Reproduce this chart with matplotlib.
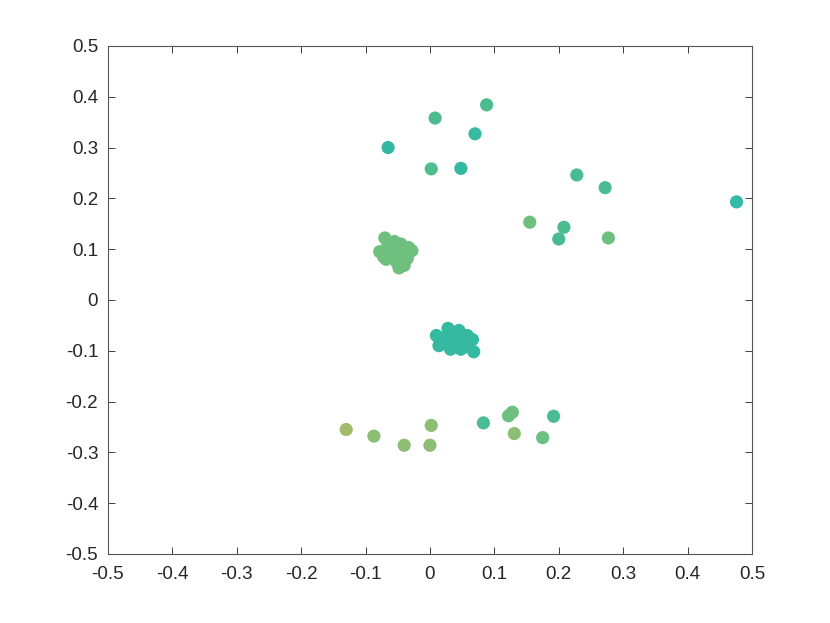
import matplotlib
matplotlib.use('Agg')
import matplotlib.pyplot as plt
import numpy as np

plt.rcParams['font.family'] = ['Liberation Sans', 'DejaVu Sans']

# scattered points (x, y, colour)
top_x = [-0.065, 0.008, 0.088, 0.070, 0.002, 0.048]
top_y = [0.300, 0.358, 0.384, 0.327, 0.258, 0.259]
top_c = ['#33b9a1', '#4cbc90', '#4cbc90', '#38baa0', '#4fbd8e', '#33b8a2']

right_x = [0.228, 0.272, 0.476, 0.155, 0.208, 0.200, 0.277]
right_y = [0.246, 0.221, 0.193, 0.153, 0.143, 0.120, 0.122]
right_c = ['#4bbc92', '#4bbc92', '#33baa6', '#6ec080', '#4bbc92', '#49bb94', '#6dc080']

bot_x = [-0.130, -0.087, -0.040, 0.002, 0.000, 0.083, 0.122, 0.128, 0.131, 0.175, 0.192]
bot_y = [-0.255, -0.268, -0.286, -0.247, -0.286, -0.242, -0.228, -0.221, -0.263, -0.271, -0.229]
bot_c = ['#a1bd6b', '#8cbf73', '#8cbf73', '#8cbf73', '#8cbf73', '#48bc95',
         '#6ec080', '#6ec080', '#8ebe73', '#6ec080', '#4abc93']

# dense clusters
g_x = [-0.070, -0.055, -0.045, -0.033, -0.028, -0.078, -0.072, -0.068, -0.060, -0.050,
       -0.048, -0.040, -0.045, -0.058, -0.065, -0.038, -0.052, -0.062, -0.042, -0.035]
g_y = [0.122, 0.115, 0.110, 0.103, 0.097, 0.095, 0.085, 0.080, 0.090, 0.100,
       0.063, 0.068, 0.080, 0.105, 0.110, 0.090, 0.075, 0.098, 0.095, 0.082]

t_x = [0.010, 0.028, 0.045, 0.036, 0.066, 0.068, 0.055, 0.048, 0.032, 0.014,
       0.020, 0.040, 0.052, 0.025, 0.058, 0.035, 0.045, 0.016]
t_y = [-0.070, -0.056, -0.060, -0.065, -0.078, -0.102, -0.092, -0.097, -0.097, -0.090,
       -0.080, -0.085, -0.080, -0.072, -0.070, -0.088, -0.075, -0.085]

fig = plt.figure(figsize=(8.3, 6.23), dpi=100)
ax = fig.add_axes([0.13, 0.1108, 0.776, 0.8155])

s = 90
ax.scatter(g_x, g_y, s=s, c='#6fbf7f', edgecolors='none')
ax.scatter(t_x, t_y, s=s, c='#35b9a0', edgecolors='none')
ax.scatter(top_x, top_y, s=s, c=top_c, edgecolors='none')
ax.scatter(right_x, right_y, s=s, c=right_c, edgecolors='none')
ax.scatter(bot_x, bot_y, s=s, c=bot_c, edgecolors='none')

ax.set_xlim(-0.5, 0.5)
ax.set_ylim(-0.5, 0.5)
ticks = np.round(np.arange(-0.5, 0.51, 0.1), 1)
ax.set_xticks(ticks)
ax.set_yticks(ticks)
ax.set_xticklabels(['0' if t == 0 else f'{t:g}' for t in ticks])
ax.set_yticklabels(['0' if t == 0 else f'{t:g}' for t in ticks])
ax.tick_params(direction='in', top=True, right=True, length=5, width=0.7,
               colors='#404040', labelsize=13.5, labelcolor='#262626')
ax.tick_params(axis='x', pad=9)
ax.tick_params(axis='y', pad=7)
for sp in ax.spines.values():
    sp.set_linewidth(0.8)
    sp.set_color('#555555')

fig.savefig('out.png', dpi=100)
